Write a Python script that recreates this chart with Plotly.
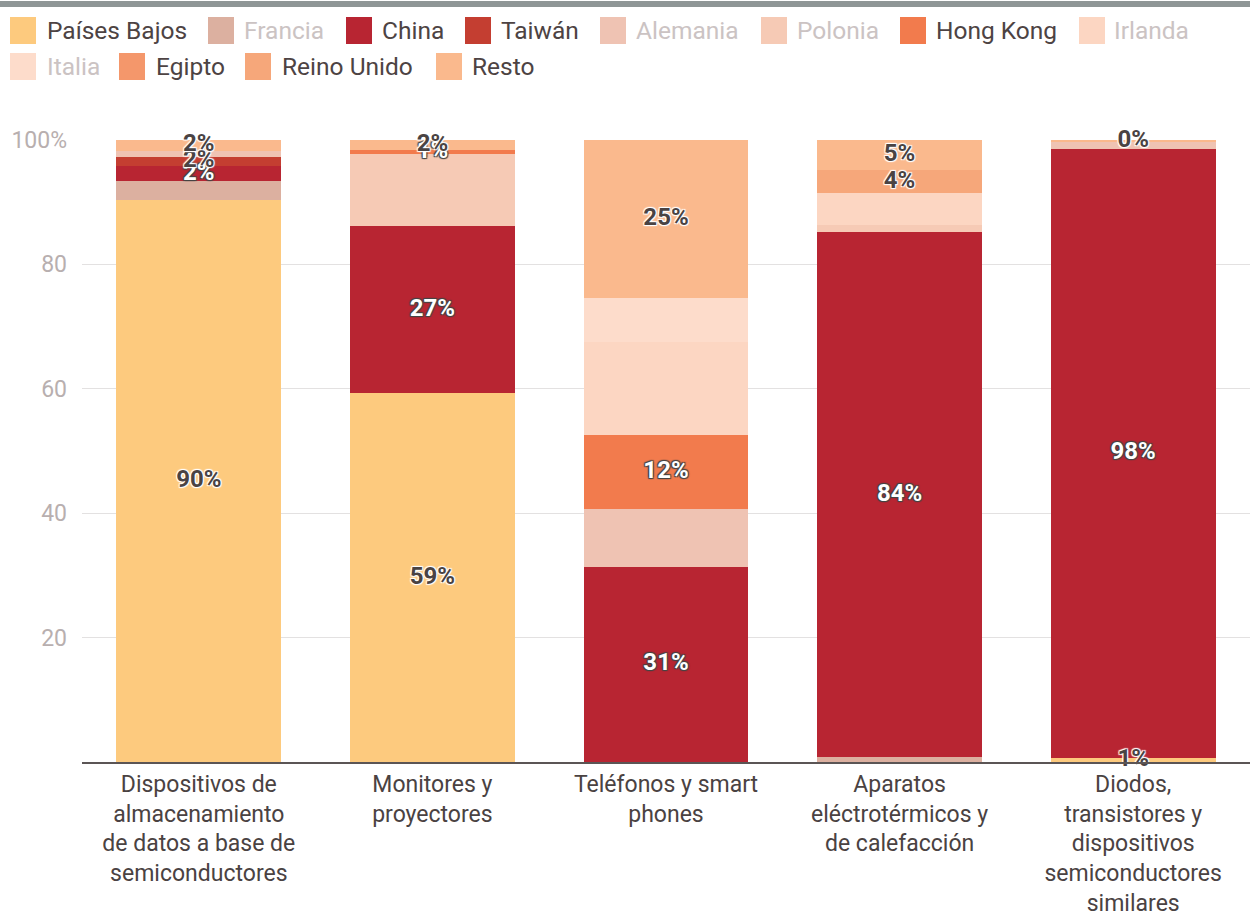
import plotly.graph_objects as go

# ---------------- data ----------------
categories = [
    "Dispositivos de<br>almacenamiento<br>de datos a base de<br>semiconductores",
    "Monitores y<br>proyectores",
    "Teléfonos y smart<br>phones",
    "Aparatos<br>eléctrotérmicos y<br>de calefacción",
    "Diodos,<br>transistores y<br>dispositivos<br>semiconductores<br>similares",
]

paises_bajos = [90.3, 59.3, 0.0, 0.0, 0.7]
francia      = [3.1, 0.0, 0.0, 0.8, 0.0]
china        = [2.4, 26.9, 31.4, 84.4, 97.9]
taiwan       = [1.5, 0.0, 0.0, 0.0, 0.0]
alemania     = [1.0, 0.0, 9.3, 0.0, 1.0]
polonia      = [0.0, 11.6, 0.0, 1.1, 0.0]
hong_kong    = [0.0, 0.6, 11.9, 0.0, 0.0]
irlanda      = [0.0, 0.0, 15.0, 5.2, 0.0]
italia       = [0.0, 0.0, 7.0, 0.0, 0.0]
egipto       = [0.0, 0.0, 0.0, 0.0, 0.0]
reino_unido  = [0.0, 0.0, 0.0, 3.6, 0.0]
resto        = [1.7, 1.6, 25.4, 4.9, 0.4]

y_tickvals = [20, 40, 60, 80, 100]
y_ticktext = ["20", "40", "60", "80", "100%"]

# name, values, colour, labelled?, label colour
series = [
    ("Países Bajos", paises_bajos, "#fdca7e", True, "#4a4343"),
    ("Francia", francia, "#dcb0a0", False, None),
    ("China", china, "#b82532", True, "#ffffff"),
    ("Taiwán", taiwan, "#c43e31", True, "#4a4343"),
    ("Alemania", alemania, "#efc3b3", False, None),
    ("Polonia", polonia, "#f6cab5", False, None),
    ("Hong Kong", hong_kong, "#f27b4d", True, "#ffffff"),
    ("Irlanda", irlanda, "#fcd6c2", False, None),
    ("Italia", italia, "#fddccb", False, None),
    ("Egipto", egipto, "#f4976b", True, "#4a4343"),
    ("Reino Unido", reino_unido, "#f6a77a", True, "#4a4343"),
    ("Resto", resto, "#fab98d", True, "#4a4343"),
]

# legend layout (pixel positions: square left, text left, row)
legend_pos = {
    "Países Bajos": (10, 45, 0), "Francia": (208, 242, 0), "China": (346, 380, 0),
    "Taiwán": (465, 499, 0), "Alemania": (600, 634, 0), "Polonia": (761, 795, 0),
    "Hong Kong": (900, 934, 0), "Irlanda": (1079, 1112, 0),
    "Italia": (10, 45, 1), "Egipto": (119, 154, 1), "Reino Unido": (245, 280, 1),
    "Resto": (436, 470, 1),
}

W, H = 1250, 916
ML, MR, MT, MB = 82, 0, 140, 154
PW, PH = W - ML - MR, H - MT - MB

def px_x(x):
    return (x - ML) / PW

def px_y(y):
    return 1 - (y - MT) / PH

FONT = "Roboto, 'Open Sans', sans-serif"

fig = go.Figure()
base = [0.0] * len(categories)
label_traces = []
for name, vals, col, labelled, lcol in series:
    fig.add_trace(go.Bar(
        x=categories, y=vals, name=name,
        marker=dict(color=col, line=dict(width=0)),
        hoverinfo="skip", showlegend=False,
    ))
    if labelled:
        lx, ly, lt = [], [], []
        for i, v in enumerate(vals):
            if v > 0:
                lx.append(categories[i])
                ly.append(base[i] + v / 2)
                lt.append(f"{round(v)}%")
        if lx:
            label_traces.append(go.Scatter(
                x=lx, y=ly, text=lt, mode="text", cliponaxis=False,
                textposition="middle center",
                textfont=dict(family=FONT, size=24, color=lcol,
                              weight="bold", shadow="auto"),
                hoverinfo="skip", showlegend=False,
            ))
    base = [b + v for b, v in zip(base, vals)]

for t in label_traces:
    fig.add_trace(t)

shapes = []
annotations = []
# top grey rule
shapes.append(dict(type="rect", xref="paper", yref="paper",
                   x0=px_x(0), x1=px_x(W), y0=px_y(7), y1=px_y(1),
                   fillcolor="#8f9696", line=dict(width=0), layer="above"))

row_centers = [30.5, 66.5]
for name, vals, col, labelled, lcol in series:
    sx, tx, row = legend_pos[name]
    cy = row_centers[row]
    shapes.append(dict(type="rect", xref="paper", yref="paper",
                       x0=px_x(sx), x1=px_x(sx + 26),
                       y0=px_y(cy + 13.5), y1=px_y(cy - 13.5),
                       fillcolor=col, line=dict(width=0), layer="above"))
    annotations.append(dict(xref="paper", yref="paper", x=px_x(tx), y=px_y(cy),
                            xanchor="left", yanchor="middle", showarrow=False,
                            text=name,
                            font=dict(family=FONT, size=24.5,
                                      color="#4d4343" if labelled else "#cbc3c3")))

fig.update_layout(
    barmode="stack",
    bargap=0.294,
    width=W, height=H,
    margin=dict(l=ML, r=MR, t=MT, b=MB, autoexpand=False),
    paper_bgcolor="white", plot_bgcolor="white",
    font=dict(family=FONT),
    shapes=shapes, annotations=annotations,
    xaxis=dict(showline=True, linecolor="#5b5555", linewidth=2, ticks="",
               showgrid=False,
               tickfont=dict(family=FONT, size=23, color="#4a4242"),
               fixedrange=True),
    yaxis=dict(range=[0, 100], tickvals=y_tickvals, ticktext=y_ticktext,
               showgrid=True, gridcolor="#e3e1e1", gridwidth=1, zeroline=False,
               ticks="", ticklabelstandoff=14,
               tickfont=dict(family=FONT, size=23, color="#b8afaf"),
               fixedrange=True),
)

fig.write_html("out.html", config={"displayModeBar": False})
